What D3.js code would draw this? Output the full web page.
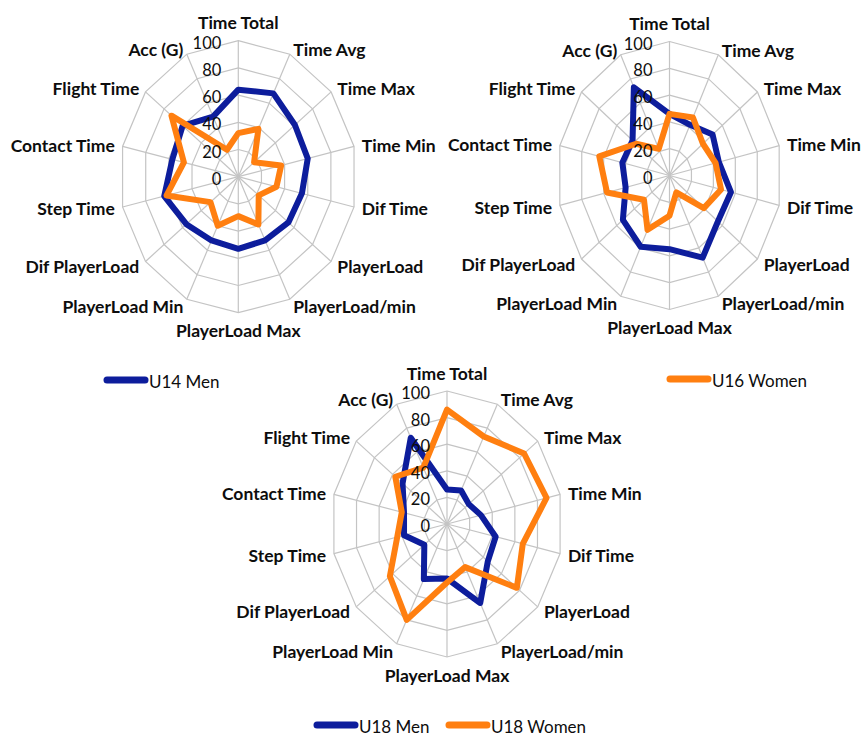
<!DOCTYPE html>
<html>
<head>
<meta charset="utf-8">
<script src="https://cdn.jsdelivr.net/npm/d3@7"></script>
<style>
  body { margin: 0; background: #fff; }
  svg { display: block; }
  .axis-label { font-family: Lato, "Open Sans", sans-serif; font-weight: bold; font-size: 17.5px; fill: #0d0d0d; }
  .ring-label { font-family: Lato, "Open Sans", sans-serif; font-size: 16.5px; fill: #0d0d0d; }
  .legend-label { font-family: Lato, "Open Sans", sans-serif; font-size: 17px; fill: #0d0d0d; }
</style>
</head>
<body>
<svg id="chart" width="863" height="737"></svg>
<script>
// axes, clockwise from the top
const axes = [ "Time Total", "Time Avg", "Time Max", "Time Min", "Dif Time", "PlayerLoad",
               "PlayerLoad/min", "PlayerLoad Max", "PlayerLoad Min", "Dif PlayerLoad",
               "Step Time", "Contact Time", "Flight Time", "Acc (G)" ];
const ringTicks = [ 0, 20, 40, 60, 80, 100 ];

const u14Men    = [ 64, 68, 61, 60, 55, 54, 52, 53, 52, 56, 64, 57, 60, 49 ];
const u14Women  = [ 32, 39, 17, 37, 33, 22, 39, 29, 40, 30, 62, 47, 72, 22 ];
const u16Men    = [ 46, 42, 49, 45, 56, 55, 68, 55, 59, 53, 40, 43, 42, 73 ];
const u16Women  = [ 46, 48, 38, 42, 47, 39, 14, 30, 45, 29, 57, 64, 38, 22 ];
const u18Men    = [ 26, 28, 24, 30, 43, 45, 66, 41, 46, 25, 38, 38, 49, 72 ];
const u18Women  = [ 86, 73, 85, 88, 67, 77, 36, 44, 80, 63, 44, 40, 57, 47 ];

const BLUE   = "#0d1d9c";
const ORANGE = "#ff7f10";

const svg = d3.select( "#chart" );

function drawRadar( cx, cy, rx, ry, series )
{
    const r     = d3.scaleLinear().domain( [ 0, 100 ] ).range( [ 0, 1 ] );
    const angle = d3.scaleLinear().domain( [ 0, axes.length ] ).range( [ 0, 2 * Math.PI ] );

    const px = ( i, v ) => cx + rx * r( v ) * Math.sin( angle( i ) );
    const py = ( i, v ) => cy - ry * r( v ) * Math.cos( angle( i ) );

    const g = svg.append( "g" );

    // rings
    const ring = d3.line().curve( d3.curveLinearClosed );
    g.selectAll( "path.ring" )
     .data( ringTicks.slice( 1 ) )
     .join( "path" )
     .attr( "class", "ring" )
     .attr( "d", t => ring( axes.map( ( a, i ) => [ px( i, t ), py( i, t ) ] ) ) )
     .attr( "fill", "none" )
     .attr( "stroke", "#c4c4c4" )
     .attr( "stroke-width", 1.2 );

    // spokes
    g.selectAll( "line.spoke" )
     .data( axes )
     .join( "line" )
     .attr( "x1", cx ).attr( "y1", cy )
     .attr( "x2", ( a, i ) => px( i, 100 ) )
     .attr( "y2", ( a, i ) => py( i, 100 ) )
     .attr( "stroke", "#c4c4c4" )
     .attr( "stroke-width", 1.2 );

    // axis labels
    g.selectAll( "text.axis-label" )
     .data( axes )
     .join( "text" )
     .attr( "class", "axis-label" )
     .attr( "x", ( a, i ) => cx + ( rx + 8 ) * Math.sin( angle( i ) ) )
     .attr( "y", ( a, i ) =>
     {
         const s = Math.sin( angle( i ) ), c = Math.cos( angle( i ) );
         let y = cy - ( ry + 8 ) * c;
         if( Math.abs( s ) < 0.1 ) y -= c * 10;
         else if( c > 0 ) y += 3 * c;
         return y;
     })
     .attr( "dominant-baseline", "central" )
     .attr( "text-anchor", ( a, i ) =>
     {
         const s = Math.sin( angle( i ) );
         return s > 0.1 ? "start" : ( s < -0.1 ? "end" : "middle" );
     })
     .text( a => a );

    // series
    const line = d3.line()
                   .x( d => px( d.i, d.v ) )
                   .y( d => py( d.i, d.v ) )
                   .curve( d3.curveLinearClosed );

    series.forEach( s =>
    {
        g.append( "path" )
         .attr( "d", line( s.values.map( ( v, i ) => ( { i, v } ) ) ) )
         .attr( "fill", "none" )
         .attr( "stroke", s.color )
         .attr( "stroke-width", 6 )
         .attr( "stroke-linejoin", "round" );
    });

    // ring labels
    g.selectAll( "text.ring-label" )
     .data( ringTicks )
     .join( "text" )
     .attr( "class", "ring-label" )
     .attr( "x", cx - 17 )
     .attr( "y", t => cy - ry * r( t ) + 2 )
     .attr( "text-anchor", "end" )
     .attr( "dominant-baseline", "central" )
     .text( t => t );
}

function legendItem( x, y, color, label )
{
    svg.append( "line" )
       .attr( "x1", x ).attr( "x2", x + 38 )
       .attr( "y1", y ).attr( "y2", y )
       .attr( "stroke", color )
       .attr( "stroke-width", 7 )
       .attr( "stroke-linecap", "round" );
    svg.append( "text" )
       .attr( "class", "legend-label" )
       .attr( "x", x + 42 )
       .attr( "y", y + 1 )
       .attr( "dominant-baseline", "central" )
       .text( label );
}

svg.append( "rect" ).attr( "width", 863 ).attr( "height", 737 ).attr( "fill", "#fff" );

drawRadar( 238.3, 176.7, 118.7, 136, [ { values: u14Men, color: BLUE }, { values: u14Women, color: ORANGE } ] );
drawRadar( 669.5, 175.5, 112.5, 134, [ { values: u16Men, color: BLUE }, { values: u16Women, color: ORANGE } ] );
drawRadar( 447, 524, 116, 133,       [ { values: u18Men, color: BLUE }, { values: u18Women, color: ORANGE } ] );

legendItem( 107, 380, BLUE,   "U14 Men" );
legendItem( 670, 379, ORANGE, "U16 Women" );
legendItem( 317, 725, BLUE,   "U18 Men" );
legendItem( 449, 725, ORANGE, "U18 Women" );
</script>
</body>
</html>
